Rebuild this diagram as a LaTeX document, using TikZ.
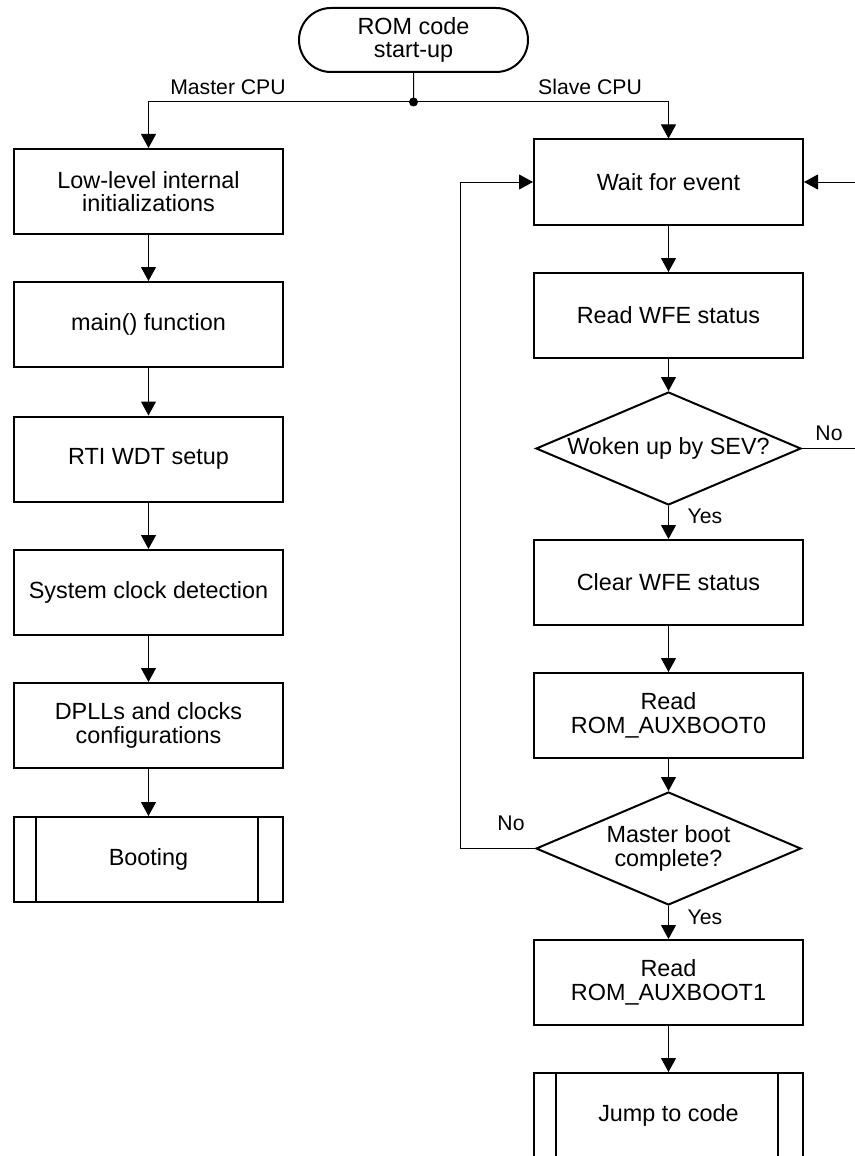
\documentclass[tikz,border=0pt]{standalone}
\usepackage{fontspec}
\setmainfont{Liberation Sans}
\usetikzlibrary{arrows.meta,shapes.geometric,shapes.misc}

\begin{document}
\begin{tikzpicture}[x=0.5pt, y=-0.5pt,
  every node/.append style={font=\fontsize{11.7}{11.7}\selectfont},
  box/.style={draw, line width=1pt, minimum width=134.5pt, minimum height=42.5pt, inner sep=2pt, align=center},
  subbox/.style={box, path picture={
      \draw[line width=1pt] ([xshift=11pt]path picture bounding box.north west) -- ([xshift=11pt]path picture bounding box.south west);
      \draw[line width=1pt] ([xshift=-12.5pt]path picture bounding box.north east) -- ([xshift=-12.5pt]path picture bounding box.south east);}},
  test/.style={diamond, draw, line width=1pt, aspect=2.35, minimum width=132.5pt, minimum height=56.5pt, inner sep=0pt, align=center},
  term/.style={rounded rectangle, draw, line width=1pt, minimum width=118.5pt, minimum height=32pt, inner sep=2pt, align=center},
  flow/.style={draw=black, line width=0.5pt, -{Triangle[length=7pt,width=7.5pt]}},
  lbl/.style={font=\fontsize{10.6}{12}\selectfont, inner sep=0pt}]
  \path[use as bounding box, fill=white] (0,0) rectangle (855,1156);

  % start and the split
  \node[term] (start) at (413.5,40) {ROM code\\start-up};
  \node[circle, fill, inner sep=0pt, minimum size=4.5pt] (split) at (413.5,102) {};
  \node[lbl] (mcpu) at (228,87) {Master CPU};
  \node[lbl] (scpu) at (590,87) {Slave CPU};

  % master CPU
  \node[box] (low) at (148.5,191.5) {Low-level internal\\initializations};
  \node[box] (main) at (148.5,324.5) {main() function};
  \node[box] (rti) at (148.5,459) {RTI WDT setup};
  \node[box] (clk) at (148.5,592.5) {System clock detection};
  \node[box] (dpll) at (148.5,725.5) {DPLLs and clocks\\configurations};
  \node[subbox] (boot) at (148.5,859.5) {Booting};

  % slave CPU
  \node[box] (wait) at (668.5,182) {Wait for event};
  \node[box] (rdwfe) at (668.5,315.5) {Read WFE status};
  \node[test] (sev) at (668.5,448.5) {Woken up by SEV?};
  \node[box] (clrwfe) at (668.5,582.5) {Clear WFE status};
  \node[box] (aux0) at (668.5,715.5) {Read\\ROM\_AUXBOOT0};
  \node[test] (mbc) at (668.5,848.5) {Master boot\\complete?};
  \node[box] (aux1) at (668.5,982.5) {Read\\ROM\_AUXBOOT1};
  \node[subbox] (jump) at (668.5,1115.5) {Jump to code};

  \node[lbl] (no1) at (829,433) {No};
  \node[lbl] (yes1) at (705,516) {Yes};
  \node[lbl] (no2) at (511,823) {No};
  \node[lbl] (yes2) at (705,917) {Yes};

  \draw[line width=0.5pt] (start) -- (split.center);
  \draw[flow] (split.center) -| (low);
  \draw[flow] (split.center) -| (wait);

  \draw[flow] (low) -- (main);
  \draw[flow] (main) -- (rti);
  \draw[flow] (rti) -- (clk);
  \draw[flow] (clk) -- (dpll);
  \draw[flow] (dpll) -- (boot);

  \draw[flow] (wait) -- (rdwfe);
  \draw[flow] (rdwfe) -- (sev);
  \draw[flow] (sev) -- (clrwfe);
  \draw[flow] (clrwfe) -- (aux0);
  \draw[flow] (aux0) -- (mbc);
  \draw[flow] (mbc) -- (aux1);
  \draw[flow] (aux1) -- (jump);

  % loops back to wait
  \draw[flow] (sev.east) -- ++(80,0) |- (wait.east);
  \draw[flow] (mbc.west) -- ++(-75,0) |- (wait.west);
\end{tikzpicture}
\end{document}
